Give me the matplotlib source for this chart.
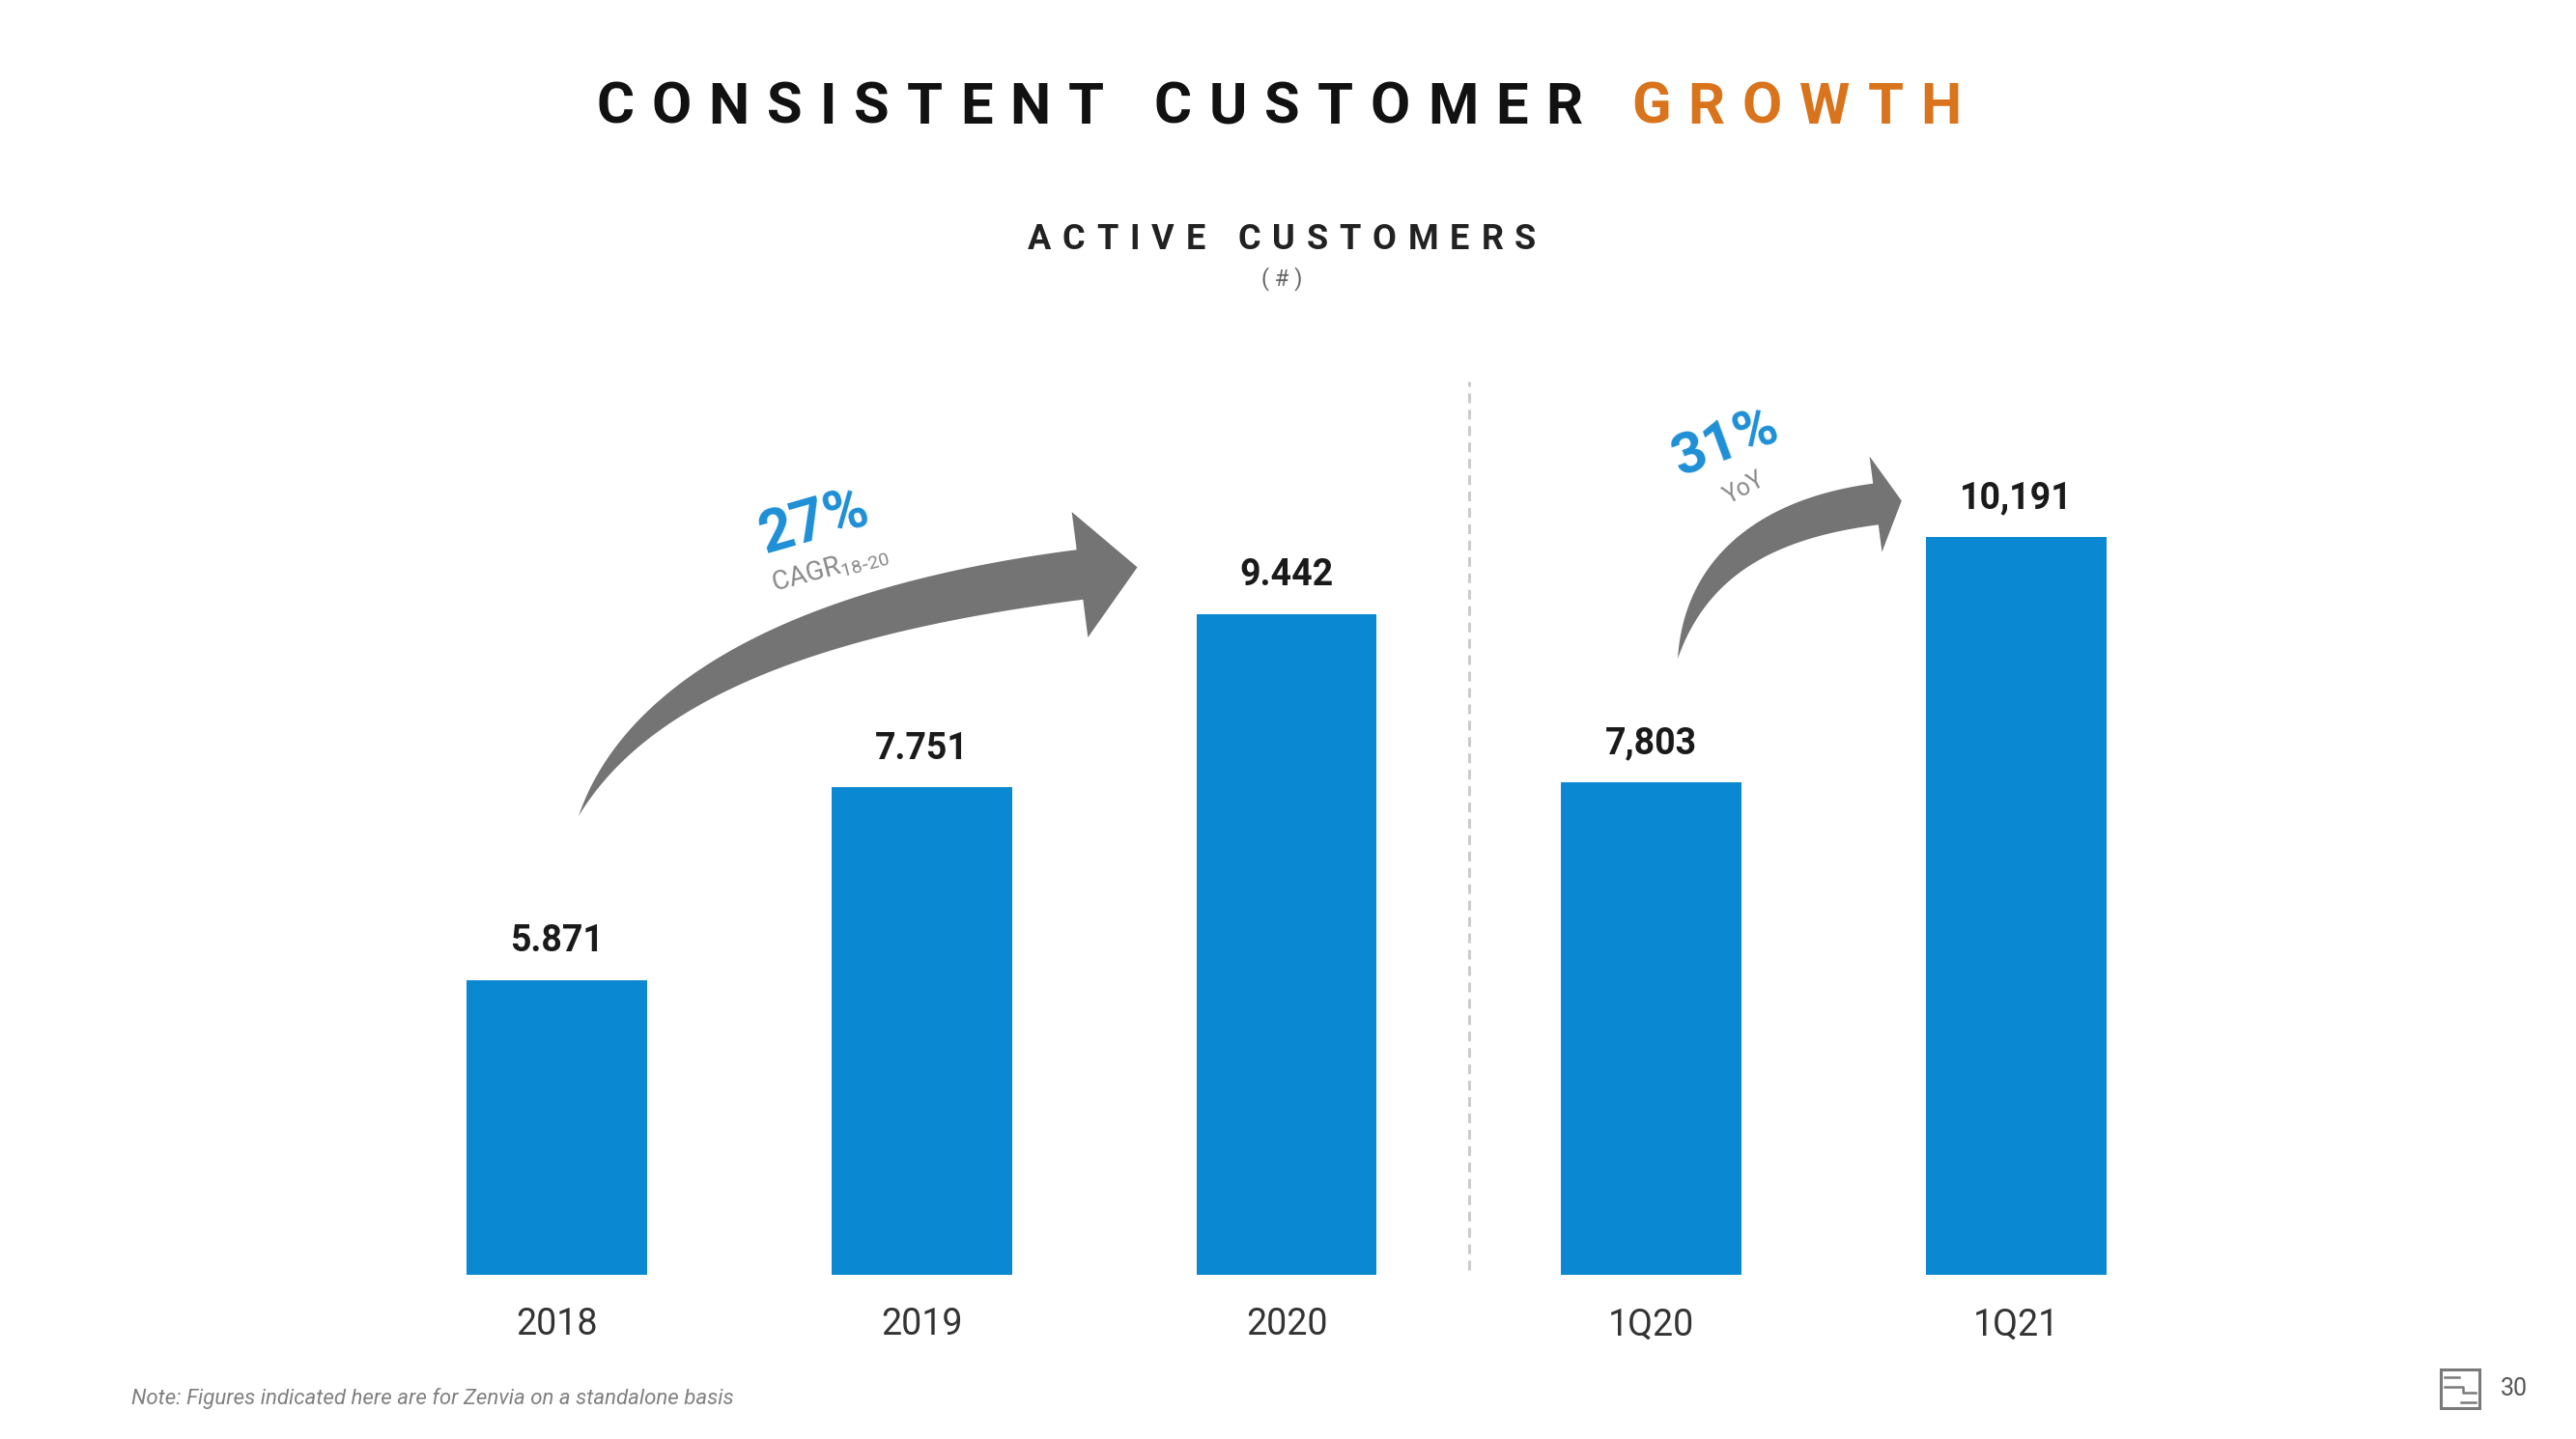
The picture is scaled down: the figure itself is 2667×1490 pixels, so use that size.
import matplotlib
matplotlib.use('Agg')
import matplotlib.pyplot as plt
import numpy as np
from matplotlib.offsetbox import TextArea, HPacker, AnnotationBbox
from matplotlib.patches import Polygon, Rectangle

plt.rcParams['font.family'] = ['Roboto', 'DejaVu Sans']
plt.rcParams['mathtext.default'] = 'regular'
plt.rcParams['lines.scale_dashes'] = False

# data
categories = ['2018', '2019', '2020', '1Q20', '1Q21']
customers = [5871, 7751, 9442, 7803, 10191]
value_labels = ['5.871', '7.751', '9.442', '7,803', '10,191']

BAR_BLUE = '#0A89D2'
TXT_BLUE = '#1E8FD6'
ORANGE = '#D9731C'
ARROW_GREY = '#747474'

W, H = 2667, 1490
fig = plt.figure(figsize=(W / 100, H / 100), dpi=100)

# bar chart
ax = fig.add_axes([388 / W, 170 / H, 1888 / W, 940 / H])
x = np.arange(len(categories))
ax.bar(x, customers, width=0.495, color=BAR_BLUE)
ax.set_xlim(-0.5, 4.5)
ax.set_ylim(3000, 11850)
ax.set_xticks(x)
ax.set_xticklabels(categories, fontsize=27, color='#333333')
ax.tick_params(axis='x', length=0, pad=24)
ax.set_yticks([])
for s in ax.spines.values():
    s.set_visible(False)
for xi, v, lab in zip(x, customers, value_labels):
    ax.annotate(lab, (xi, v), xytext=(0, 29), textcoords='offset points',
                ha='center', va='center', fontsize=27, fontweight='bold',
                color='#1a1a1a')
ax.axvline(2.5, ymin=0.005, ymax=0.984, color='#cccccc', lw=2.2,
           dashes=(7.2, 5))

# overlay in pixel coords for decorations
ov = fig.add_axes([0, 0, 1, 1], zorder=5)
ov.set_xlim(0, W)
ov.set_ylim(H, 0)
ov.axis('off')


def spaced(text, size, colors, sep, weight='bold'):
    boxes = []
    for ch, c in zip(text, colors):
        boxes.append(TextArea(ch, textprops=dict(fontsize=size, color=c,
                                                 fontweight=weight)))
    return HPacker(children=boxes, align='baseline', pad=0, sep=sep)


title_a = 'CONSISTENT CUSTOMER '
title_b = 'GROWTH'
title_txt = title_a + title_b
title_cols = ['#111111'] * len(title_a) + [ORANGE] * len(title_b)
tb = spaced(title_txt, 43, title_cols, 13)
ov.add_artist(AnnotationBbox(tb, (1324, 112), frameon=False, pad=0,
                             box_alignment=(0.5, 0.5)))

sub_txt = 'ACTIVE CUSTOMERS'
sb = spaced(sub_txt, 26, ['#222222'] * len(sub_txt), 8.6)
ov.add_artist(AnnotationBbox(sb, (1327, 248), frameon=False, pad=0,
                             box_alignment=(0.5, 0.5)))
ov.text(1327, 289, '( # )', ha='center', va='center', fontsize=17,
        color='#666666')


def curved_arrow(p0, c, p2, w_shaft, head_len, head_w, color):
    p0, c, p2 = np.array(p0, float), np.array(c, float), np.array(p2, float)
    t = np.linspace(0, 1, 80)[:, None]
    pts = (1 - t) ** 2 * p0 + 2 * (1 - t) * t * c + t ** 2 * p2
    d = 2 * (1 - t) * (c - p0) + 2 * t * (p2 - c)
    d = d / np.linalg.norm(d, axis=1, keepdims=True)
    n = np.column_stack([-d[:, 1], d[:, 0]])
    w = w_shaft * (1 - (1 - t) ** 1.8)
    upper = pts + n * w / 2
    lower = pts - n * w / 2
    de, ne = d[-1], n[-1]
    tip = p2 + de * head_len
    poly = np.vstack([upper, p2 + ne * head_w / 2, tip, p2 - ne * head_w / 2,
                      lower[::-1]])
    ov.add_patch(Polygon(poly, closed=True, color=color, lw=0))


curved_arrow((599, 845), (690, 650), (1118, 595), 52, 60, 131, ARROW_GREY)
curved_arrow((1737, 682), (1765, 545), (1942, 522), 43, 27, 100, ARROW_GREY)

ov.text(844, 541, '27%', rotation=16, ha='center', va='center',
        rotation_mode='anchor', fontsize=44, fontweight='bold', color=TXT_BLUE)
ov.text(859, 589, r'CAGR$_{18\text{-}20}$', rotation=15, ha='center',
        va='center', rotation_mode='anchor', fontsize=20, color='#8a8a8a')
ov.text(1786, 459, '31%', rotation=20, ha='center', va='center',
        rotation_mode='anchor', fontsize=43, fontweight='bold', color=TXT_BLUE)
ov.text(1806, 505, 'YoY', rotation=28, ha='center', va='center',
        rotation_mode='anchor', fontsize=18, color='#8a8a8a')

# footer
ov.text(136, 1448, 'Note: Figures indicated here are for Zenvia on a standalone basis',
        ha='left', va='center', fontsize=16, style='italic', color='#808080')
ov.add_patch(Rectangle((2527, 1418), 40, 40, fill=False, ec='#7a7a7a', lw=2.2))
ov.plot([2531, 2550, 2550, 2563], [1436, 1436, 1442, 1442], color='#7a7a7a', lw=1.8)
ov.plot([2531, 2546], [1426, 1426], color='#7a7a7a', lw=1.8)
ov.plot([2548, 2563], [1452, 1452], color='#7a7a7a', lw=1.8)
ov.text(2603, 1438, '30', ha='center', va='center', fontsize=18,
        color='#555555')

fig.savefig('out.png', dpi=100)
